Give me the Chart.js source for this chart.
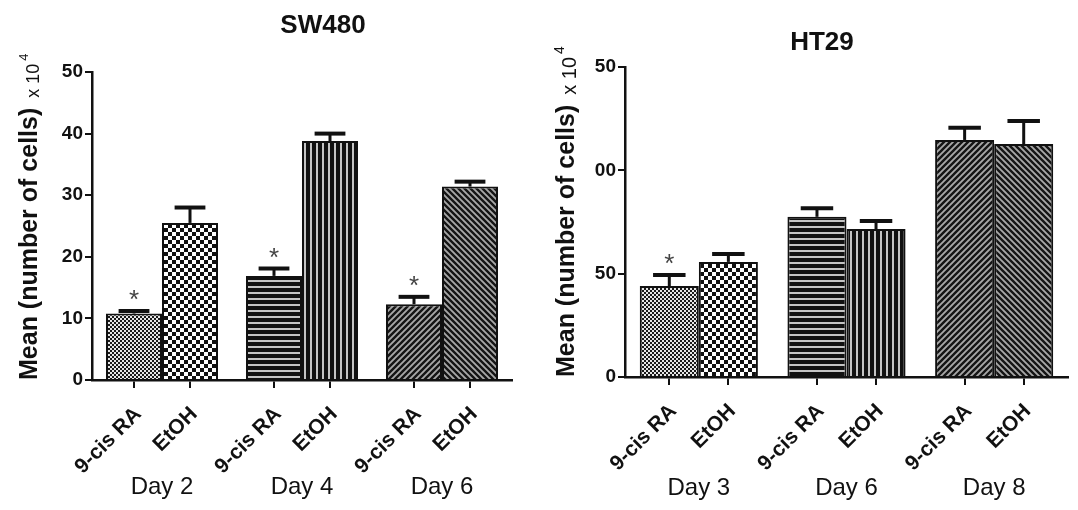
<!DOCTYPE html>
<html>
<head>
<meta charset="utf-8">
<script src="https://cdn.jsdelivr.net/npm/chart.js@4.4.1/dist/chart.umd.min.js"></script>
<style>
  body { margin: 0; background: #fff; }
  .wrap { display: flex; }
  canvas { display: block; }
</style>
</head>
<body>
<div class="wrap">
  <canvas id="sw480" width="540" height="510"></canvas>
  <canvas id="ht29" width="538" height="510"></canvas>
</div>
<script>
// SW480 (x 10^4 cells)
var swDays = ['Day 2', 'Day 4', 'Day 6'];
var swRA = [10.8, 16.9, 12.3];
var swRAerr = [0.4, 1.2, 1.2];
var swEtOH = [25.5, 38.8, 31.4];
var swEtOHerr = [2.5, 1.2, 0.8];
var swSig = [true, true, true];
var swTicks = ['0', '10', '20', '30', '40', '50'];

// HT29
var htDays = ['Day 3', 'Day 6', 'Day 8'];
var htRA = [44.0, 77.5, 114.7];
var htRAerr = [5.4, 4.2, 5.9];
var htEtOH = [55.7, 71.6, 112.7];
var htEtOHerr = [3.8, 3.9, 11.2];
var htSig = [true, false, false];
var htTicks = ['0', '50', '00', '50'];   // labels are clipped like that in the figure

var treatments = ['9-cis RA', 'EtOH'];

var FAMILY = "'Liberation Sans', Arial, sans-serif";
Chart.defaults.font.family = FAMILY;
Chart.defaults.color = '#111';

function tile(w, h, draw) {
  var c = document.createElement('canvas');
  c.width = w; c.height = h;
  draw(c.getContext('2d'), w, h);
  return c;
}

function makePatterns(ctx) {
  var fine = tile(4, 4, function (g) {
    g.fillStyle = '#e6e6e6'; g.fillRect(0, 0, 4, 4);
    g.fillStyle = '#1a1a1a'; g.fillRect(0, 0, 2, 2); g.fillRect(2, 2, 2, 2);
  });
  var checker = tile(8, 8, function (g) {
    g.fillStyle = '#fff'; g.fillRect(0, 0, 8, 8);
    g.fillStyle = '#111'; g.fillRect(0, 0, 4, 4); g.fillRect(4, 4, 4, 4);
  });
  var horiz = tile(6, 6, function (g) {
    g.fillStyle = '#c4c4c4'; g.fillRect(0, 0, 6, 6);
    g.fillStyle = '#111'; g.fillRect(0, 0, 6, 4);
  });
  var vert = tile(6, 6, function (g) {
    g.fillStyle = '#c4c4c4'; g.fillRect(0, 0, 6, 6);
    g.fillStyle = '#111'; g.fillRect(0, 0, 4, 6);
  });
  function diag(dir) {
    return tile(6, 6, function (g, s) {
      g.fillStyle = '#a8a8a8'; g.fillRect(0, 0, s, s);
      g.strokeStyle = '#151515'; g.lineWidth = 2.4;
      g.beginPath();
      [-s, 0, s].forEach(function (o) {
        if (dir > 0) { g.moveTo(o - 1, s + 1); g.lineTo(o + s + 1, -1); }
        else { g.moveTo(o - 1, -1); g.lineTo(o + s + 1, s + 1); }
      });
      g.stroke();
    });
  }
  return {
    fine: ctx.createPattern(fine, 'repeat'),
    checker: ctx.createPattern(checker, 'repeat'),
    horiz: ctx.createPattern(horiz, 'repeat'),
    vert: ctx.createPattern(vert, 'repeat'),
    up: ctx.createPattern(diag(1), 'repeat'),
    down: ctx.createPattern(diag(-1), 'repeat')
  };
}

// error bars (upper side only) and significance stars
var errorBars = {
  id: 'errorBars',
  afterDatasetsDraw: function (chart) {
    var ctx = chart.ctx, y = chart.scales.y;
    chart.data.datasets.forEach(function (ds, di) {
      chart.getDatasetMeta(di).data.forEach(function (bar, i) {
        var top = y.getPixelForValue(ds.data[i] + ds.errors[i]);
        var cap = bar.width * 0.55;
        ctx.save();
        ctx.strokeStyle = '#111';
        ctx.lineWidth = 3;
        ctx.beginPath(); ctx.moveTo(bar.x, bar.y); ctx.lineTo(bar.x, top); ctx.stroke();
        ctx.lineWidth = 4;
        ctx.beginPath(); ctx.moveTo(bar.x - cap / 2, top); ctx.lineTo(bar.x + cap / 2, top); ctx.stroke();
        if (ds.sig && ds.sig[i]) {
          ctx.fillStyle = '#444';
          ctx.font = '26px ' + FAMILY;
          ctx.textAlign = 'center';
          ctx.textBaseline = 'middle';
          ctx.fillText('*', bar.x, top - 10);
        }
        ctx.restore();
      });
    });
  }
};

// " x 10^4" continuing the y axis title
var ySuffix = {
  id: 'ySuffix',
  afterDraw: function (chart, args, opts) {
    var sc = chart.scales.y, t = sc.options.title, ctx = chart.ctx;
    ctx.save();
    ctx.font = 'bold ' + t.font.size + 'px ' + FAMILY;
    var w = ctx.measureText(t.text).width;
    var bx = sc.left + t.padding.top + t.font.size * 0.6 + t.font.size * 0.35;
    ctx.translate(bx, chart.chartArea.bottom - w - opts.gap);
    ctx.rotate(-Math.PI / 2);
    ctx.fillStyle = '#111';
    ctx.textBaseline = 'alphabetic';
    ctx.font = opts.size + 'px ' + FAMILY;
    ctx.fillText('x 10', 0, 0);
    var w2 = ctx.measureText('x 10').width;
    ctx.font = Math.round(opts.size * 0.7) + 'px ' + FAMILY;
    ctx.fillText('4', w2 + 3, -opts.size * 0.6);
    ctx.restore();
  }
};

var panelTitle = {
  id: 'panelTitle',
  afterDraw: function (chart, args, opts) {
    var ctx = chart.ctx;
    ctx.save();
    ctx.font = 'bold 26px ' + FAMILY;
    ctx.fillStyle = '#111';
    ctx.textAlign = 'center';
    ctx.fillText(opts.text, opts.x, opts.y);
    ctx.restore();
  }
};

function drawPanel(id, cfg) {
  var ctx = document.getElementById(id).getContext('2d');
  var p = makePatterns(ctx);
  var n = cfg.days.length;
  return new Chart(ctx, {
    type: 'bar',
    data: {
      labels: cfg.days,
      datasets: [
        { label: treatments[0], data: cfg.ra, errors: cfg.raErr, sig: cfg.sig,
          backgroundColor: [p.fine, p.horiz, p.up] },
        { label: treatments[1], data: cfg.etoh, errors: cfg.etohErr,
          backgroundColor: [p.checker, p.vert, p.down] }
      ]
    },
    options: {
      responsive: false,
      animation: false,
      datasets: {
        bar: { borderColor: '#111', borderWidth: 2, categoryPercentage: 0.8, barPercentage: 1 }
      },
      layout: { padding: { top: cfg.padTop, right: cfg.padRight, left: 0, bottom: 0 } },
      plugins: {
        legend: { display: false },
        tooltip: { enabled: false },
        panelTitle: cfg.title,
        ySuffix: { size: cfg.suffixSize, gap: 10 }
      },
      scales: {
        x: {
          type: 'category',
          weight: 1,
          grid: { display: false, drawTicks: false },
          border: { display: false },
          ticks: { font: { size: 24 }, color: '#111', padding: 0, maxRotation: 0 },
          afterFit: function (s) { s.height = cfg.dayH; }
        },
        treat: {
          type: 'linear',
          position: 'bottom',
          weight: 0,
          offset: false,
          min: -0.5,
          max: n - 0.5,
          afterBuildTicks: function (s) {
            var off = 0.8 / 4, t = [];
            for (var i = 0; i < n; i++) { t.push({ value: i - off }, { value: i + off }); }
            s.ticks = t;
          },
          ticks: {
            autoSkip: false, minRotation: 45, maxRotation: 45, padding: 14, labelOffset: 4,
            font: { size: 21, weight: 'bold' }, color: '#111',
            callback: function (v, i) { return treatments[i % 2]; }
          },
          grid: { offset: false, drawOnChartArea: false, tickLength: 8, color: '#111', lineWidth: 2 },
          border: { color: '#111', width: 2.5 },
          afterFit: function (s) { s.height = cfg.treatH; s.paddingLeft = 0; s.paddingRight = 0; }
        },
        y: {
          min: 0,
          max: cfg.yMax,
          ticks: {
            stepSize: cfg.step, padding: 2, color: '#111',
            font: { size: 19, weight: 'bold' },
            callback: function (v, i) { return cfg.yTicks[i]; }
          },
          grid: { drawOnChartArea: false, tickLength: 7, color: '#111', lineWidth: 2 },
          border: { color: '#111', width: 2.5 },
          title: {
            display: true, text: 'Mean (number of cells)', align: 'start', color: '#111',
            font: { size: 25, weight: 'bold' }, padding: { top: cfg.titlePad, bottom: 0 }
          },
          afterFit: function (s) { s.width = cfg.yW; }
        }
      }
    },
    plugins: [errorBars, ySuffix, panelTitle]
  });
}

drawPanel('sw480', {
  days: swDays, ra: swRA, raErr: swRAerr, etoh: swEtOH, etohErr: swEtOHerr, sig: swSig,
  yMax: 50, step: 10, yTicks: swTicks,
  padTop: 72, padRight: 28, yW: 92, treatH: 93, dayH: 37, titlePad: 15, suffixSize: 18,
  title: { text: 'SW480', x: 323, y: 33 }
});

drawPanel('ht29', {
  days: htDays, ra: htRA, raErr: htRAerr, etoh: htEtOH, etohErr: htEtOHerr, sig: htSig,
  yMax: 150, step: 50, yTicks: htTicks,
  padTop: 67, padRight: 10, yW: 85, treatH: 97, dayH: 36, titlePad: 12, suffixSize: 20,
  title: { text: 'HT29', x: 282, y: 50 }
});
</script>
</body>
</html>
